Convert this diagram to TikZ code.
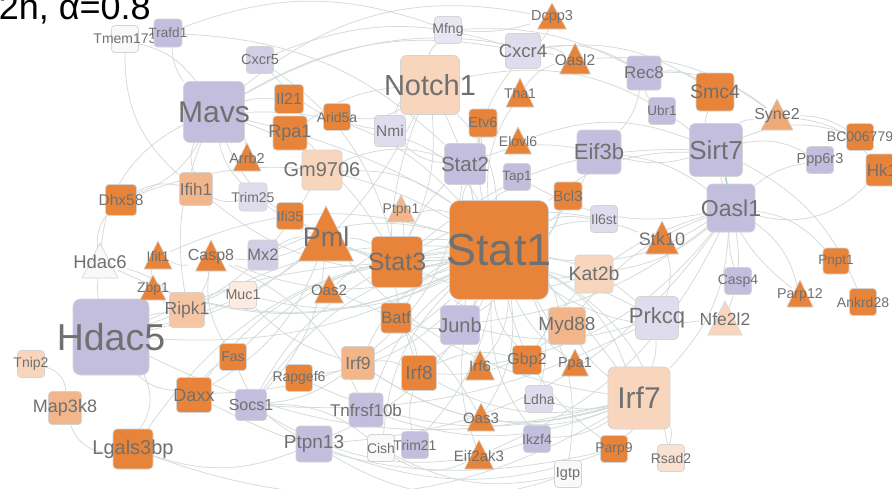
\documentclass[tikz,border=0pt]{standalone}
\usepackage{fontspec}
\setmainfont{Liberation Sans}
\usetikzlibrary{calc}
\definecolor{orD}{RGB}{232,132,58}
\definecolor{orM}{RGB}{243,182,138}
\definecolor{orM2}{RGB}{246,198,164}
\definecolor{orS}{RGB}{241,170,118}
\definecolor{orL}{RGB}{248,214,190}
\definecolor{orL2}{RGB}{250,226,210}
\definecolor{orVL}{RGB}{251,235,224}
\definecolor{lav}{RGB}{195,190,222}
\definecolor{lav2}{RGB}{210,206,230}
\definecolor{lavL}{RGB}{223,220,237}
\definecolor{lavVL}{RGB}{232,230,242}
\definecolor{wh}{RGB}{249,248,250}
\definecolor{edgec}{RGB}{210,219,216}
\definecolor{teal}{RGB}{160,214,210}
\definecolor{bordc}{RGB}{212,212,212}
\definecolor{labc}{RGB}{112,112,112}
\newcommand\fsz[1]{\fontsize{#1}{#1}\selectfont}
\pgfdeclarelayer{bgl}
\pgfdeclarelayer{edgel}
\pgfsetlayers{bgl,edgel,main}
\tikzset{
  box/.style={draw=bordc, line width=0.7pt, inner sep=0pt, outer sep=0pt},
  lab/.style={text=labc, inner sep=0.5pt},
  edge/.style={draw=edgec, line width=0.75pt},
}
\newcommand\bx[7]{%
  \pgfmathsetmacro\myrc{max(3.5,0.1*#4)}%
  \node[box, minimum size=#4pt, rounded corners=\myrc pt, fill=#5,
        label={[lab,font={\fsz{#6}}]center:#7}] (#1) at (#2,#3) {};}
\newcommand\tri[8]{%
  \filldraw[fill=#6, draw=bordc, line width=0.6pt, line join=round]
     (#2,#3) -- ++(#4/2,#5) -- ++(-#4,0) -- cycle;
  \node[lab, font={\fsz{#7}}] (#1) at (#2,#3+0.55*#5) {#8};}
\begin{document}
\begin{tikzpicture}[x=1pt,y=-1pt]
\useasboundingbox (0,0) rectangle (892,488);
\begin{pgfonlayer}{bgl}
\fill[white] (0,0) rectangle (892,488);
\end{pgfonlayer}
% title
\node[anchor=base east, font={\fsz{36}}, text=black, inner sep=0pt] (title) at (151,19.5) {2h, α=0.8};
% nodes
\bx{tmem}{125}{39}{27}{wh}{14}{Tmem173}
\bx{trafd}{168}{33}{28}{lav}{13.5}{Trafd1}
\bx{cxcr5}{260}{60}{27}{lav2}{14.5}{Cxcr5}
\bx{mavs}{214}{112}{61}{lav}{30}{Mavs}
\bx{il21}{289}{99}{29}{orD}{16}{Il21}
\bx{rpa1}{290}{133}{34}{orD}{18}{Rpa1}
\bx{arid}{337}{117}{27}{orD}{14}{Arid5a}
\bx{nmi}{390}{131}{31}{lavL}{15.5}{Nmi}
\bx{mfng}{448}{30}{27}{lavVL}{14}{Mfng}
\bx{notch}{430}{85}{59}{orL}{29}{Notch1}
\bx{cxcr4}{523}{51}{35}{lavL}{18.5}{Cxcr4}
\bx{etv6}{483}{123}{28}{orD}{14.5}{Etv6}
\bx{stat2}{465}{164}{41}{lav}{20.5}{Stat2}
\bx{tap1}{517}{177}{27}{lav}{13.5}{Tap1}
\bx{bcl3}{568}{196}{28}{orD}{15}{Bcl3}
\bx{il6st}{604}{219}{27}{lavL}{14}{Il6st}
\bx{gm}{322}{170}{40}{orL}{20}{Gm9706}
\bx{ifih1}{196}{189}{33}{orM}{17}{Ifih1}
\bx{trim25}{253}{197}{28}{lavL}{14}{Trim25}
\bx{dhx58}{121}{200}{31}{orD}{15.5}{Dhx58}
\bx{ifi35}{290}{216}{27}{orD}{14}{Ifi35}
\bx{rec8}{644}{73}{34}{lav}{17}{Rec8}
\bx{ubr1}{662}{111}{27}{lav}{13.5}{Ubr1}
\bx{smc4}{715}{92}{38}{orD}{19.5}{Smc4}
\bx{eif3b}{599}{152}{44}{lav}{22}{Eif3b}
\bx{sirt7}{716}{150}{53}{lav}{26}{Sirt7}
\bx{oasl1}{731}{208}{48}{lav}{23}{Oasl1}
\bx{bc}{860}{137}{27}{orD}{14}{BC006779}
\bx{hk1}{882}{170}{32}{orD}{17}{Hk1}
\bx{ppp}{820}{160}{27}{lav}{14.5}{Ppp6r3}
\bx{pnpt1}{836}{261}{26}{orD}{13.5}{Pnpt1}
\bx{casp4}{738}{281}{27}{lav}{14}{Casp4}
\bx{ank}{863}{302}{27}{orD}{14}{Ankrd28}
\bx{prkcq}{657}{318}{43}{lavL}{22}{Prkcq}
\bx{irf7}{639}{398}{62}{orL}{30}{Irf7}
\bx{parp9}{614}{449}{27}{orD}{14}{Parp9}
\bx{rsad2}{671}{458}{27}{orL2}{14}{Rsad2}
\bx{kat2b}{594}{274}{38}{orL}{19.5}{Kat2b}
\bx{myd88}{567}{326}{37}{orM}{19}{Myd88}
\bx{stat1}{499}{250}{99}{orD}{45}{Stat1}
\bx{stat3}{397}{262}{51}{orD}{25}{Stat3}
\bx{batf}{396}{318}{30}{orD}{16.5}{Batf}
\bx{junb}{460}{325}{39}{lav}{20}{Junb}
\bx{irf9}{358}{363}{33}{orM}{17.5}{Irf9}
\bx{irf8}{419}{373}{35}{orD}{19}{Irf8}
\bx{gbp2}{527}{360}{29}{orD}{16}{Gbp2}
\bx{ldha}{539}{399}{27}{lavL}{14}{Ldha}
\bx{tnf}{366}{410}{34}{lav}{17}{Tnfrsf10b}
\bx{ptpn13}{314}{444}{36}{lav}{19}{Ptpn13}
\bx{cish}{381}{448}{27}{wh}{14}{Cish}
\bx{trim21}{415}{445}{27}{lav}{14}{Trim21}
\bx{ikzf4}{537}{439}{27}{lav}{14}{Ikzf4}
\bx{igtp}{568}{474}{27}{wh}{14.5}{Igtp}
\bx{mx2}{263}{255}{30}{lav2}{16.5}{Mx2}
\bx{muc1}{243}{295}{27}{orVL}{14.3}{Muc1}
\bx{hdac5}{111}{337}{76}{lav}{37.5}{Hdac5}
\bx{tnip2}{31}{364}{27}{orL}{14}{Tnip2}
\bx{fas}{233}{357}{27}{orD}{14}{Fas}
\bx{map3k8}{65}{408}{33}{orM}{18}{Map3k8}
\bx{daxx}{194}{395}{35}{orD}{18}{Daxx}
\bx{socs1}{251}{405}{31}{lav}{16}{Socs1}
\bx{lgals}{133}{449}{40}{orD}{20}{Lgals3bp}
\bx{rapgef6}{299}{378}{27}{orD}{14}{Rapgef6}
% triangles
\tri{arrb2}{247}{143}{28}{28}{orD}{14.5}{Arrb2}
\tri{dcpp3}{552}{3}{29}{26}{orD}{14.5}{Dcpp3}
\tri{oasl2}{575}{43}{31}{31}{orD}{15.5}{Oasl2}
\tri{tha1}{520}{78}{28}{29}{orD}{14}{Tha1}
\tri{elovl6}{518}{127}{27}{27}{orD}{14}{Elovl6}
\tri{ptpn1}{401}{195}{28}{27}{orM}{14}{Ptpn1}
\tri{syne2}{777}{99}{32}{31}{orS}{16}{Syne2}
\tri{stk10}{662}{221}{33}{33}{orD}{18}{Stk10}
\tri{parp12}{800}{280}{26}{27}{orD}{14.2}{Parp12}
\tri{nfe2l2}{725}{301}{34}{34}{orL}{17.5}{Nfe2l2}
\tri{hdac6}{100}{243}{36}{35}{wh}{18.5}{Hdac6}
\tri{ifit1}{158}{241}{28}{28}{orD}{14}{Ifit1}
\tri{casp8}{211}{240}{31}{31}{orD}{16}{Casp8}
\tri{zbp1}{153}{275}{26}{25}{orD}{14}{Zbp1}
\bx{ripk1}{187}{310}{35}{orM2}{17.5}{Ripk1}
\tri{pml}{326}{206}{55}{55}{orD}{27}{Pml}
\tri{oas2}{329}{275}{29}{28}{orD}{15}{Oas2}
\tri{irf6}{480}{350}{29}{30}{orD}{15}{Irf6}
\tri{ppa1}{575}{349}{27}{27}{orD}{14.5}{Ppa1}
\tri{oas3}{481}{403}{28}{28}{orD}{15}{Oas3}
\tri{eif2ak3}{479}{440}{29}{29}{orD}{15}{Eif2ak3}
% edges
\begin{pgfonlayer}{edgel}
\foreach \a/\b/\c in {
 stat1/stat2/15, stat1/stat3/-10, stat1/irf7/20, stat1/irf9/-20, stat1/irf8/15,
 stat1/junb/-15, stat1/myd88/15, stat1/kat2b/-15, stat1/pml/20, stat1/mavs/-25,
 stat1/hdac5/15, stat1/notch/-20, stat1/socs1/-20, stat1/daxx/20, stat1/ripk1/-15,
 stat1/casp8/20, stat1/oasl1/-20, stat1/sirt7/20, stat1/eif3b/-15, stat1/prkcq/15,
 stat1/nmi/-20, stat1/tap1/20, stat1/bcl3/-20, stat1/il6st/15, stat1/gbp2/-20,
 stat1/irf6/20, stat1/cxcr4/25, stat1/gm/-20, stat1/ptpn13/20, stat1/tnf/-15,
 stat1/trim21/15, stat1/mx2/-20, stat1/ifi35/20, stat1/oas2/-25, stat1/oas3/20,
 stat1/eif2ak3/-20, stat1/stk10/20, stat1/nfe2l2/-20, stat1/ifih1/25, stat1/dhx58/-25,
 stat1/trim25/20, stat1/batf/-20, stat1/lgals/-25, stat1/rsad2/25, stat1/parp9/-20,
 stat1/ldha/20, stat1/ikzf4/-20, stat1/igtp/20, stat1/cish/-20, stat1/rapgef6/20,
 stat1/fas/-20, stat1/zbp1/20, stat1/ifit1/-20, stat1/hdac6/25, stat1/ppa1/-15,
 stat1/etv6/20, stat1/tha1/20, stat1/ptpn1/-15, stat1/muc1/20,
 mavs/ifih1/-20, mavs/dhx58/20, mavs/trim25/-15, mavs/arrb2/15, mavs/tmem/-20,
 mavs/trafd/15, mavs/hdac6/-30, mavs/dcpp3/25, mavs/cxcr4/20, mavs/pml/-20,
 mavs/stat3/20, mavs/irf7/20, mavs/ripk1/-15, mavs/il21/10, mavs/oasl2/22,
 hdac5/hdac6/10, hdac5/lgals/30, tnip2/map3k8/40, map3k8/lgals/-40, hdac5/daxx/-20,
 hdac5/ripk1/10, hdac5/stat3/10, hdac5/pml/-15, hdac5/irf7/-20, hdac5/notch/-25,
 notch/mfng/20, notch/nmi/-20, notch/stat3/15, notch/junb/20, notch/arid/20,
 notch/rpa1/-15, notch/sirt7/25, notch/irf8/-20,
 cxcr4/oasl2/20, cxcr4/dcpp3/-20, tha1/oasl2/20, rec8/smc4/20, rec8/ubr1/-20,
 rec8/cxcr4/-20, smc4/sirt7/-20, sirt7/syne2/20, syne2/hk1/20, sirt7/ppp/20,
 hk1/oasl1/30, bc/sirt7/-20, pnpt1/oasl1/-20, ank/sirt7/-20, parp12/sirt7/20,
 casp4/oasl1/10, nfe2l2/oasl1/-15, prkcq/irf7/10, irf7/oasl1/-20, irf7/parp9/15,
 irf7/rsad2/20, myd88/irf7/-10, irf7/irf9/25, eif3b/oasl1/15, eif3b/rec8/-15,
 stat2/irf9/20, stat2/stat3/-10, pml/daxx/20, ripk1/casp8/-15, ripk1/zbp1/15,
 fas/casp8/20, fas/daxx/-15, socs1/stat3/15, cish/socs1/-20, ptpn13/fas/20,
 tnf/casp8/-20, trim21/irf8/15, oas2/oas3/20, eif2ak3/oasl1/-20, lgals/irf7/-25,
 daxx/parp9/-20, socs1/prkcq/-15, pml/irf7/-20, stat3/prkcq/15, junb/prkcq/-15,
 kat2b/stat3/20, sirt7/eif3b/15, stk10/prkcq/20, syne2/rec8/-20, bc/syne2/-15,
 oasl1/ppp/15, oasl1/parp12/20, oasl1/myd88/-15, oasl1/irf6/20, oasl1/junb/15,
 oasl1/gbp2/-20, oasl1/kat2b/15, oasl1/ptpn13/25, sirt7/stat3/-20, eif3b/stat2/-15,
 pml/stat3/15, pml/mx2/-15, pml/ifi35/20, pml/casp8/15, pml/socs1/20,
 irf9/irf8/15, irf8/irf7/-20, irf9/irf7/-25, myd88/irf8/20, ldha/irf7/-15,
 dhx58/ifih1/20, dhx58/hdac6/-25, ifih1/trim25/-20, tmem/ifih1/-25, trafd/stat2/20,
 cxcr5/stat3/20, cxcr5/nmi/-20, mfng/dcpp3/-10, gm/stat2/20, gm/rpa1/-20,
 gm/hdac5/20, ptpn1/stat3/10, nmi/stat2/-20, etv6/stat2/15, elovl6/sirt7/20,
 tap1/oasl1/-20, bcl3/junb/15, il6st/stat3/-20, zbp1/ifit1/20, ifit1/casp8/-20,
 muc1/irf9/-15, rapgef6/irf7/-20, tnf/irf7/-20, cish/igtp/-20, ikzf4/irf7/-15,
 ptpn13/parp9/-20, oas3/irf7/-15, gbp2/irf8/-20, batf/irf8/15, batf/junb/-15,
 hdac6/ripk1/15, lgals/ptpn13/-20, daxx/stat3/20, socs1/irf9/-15,
 ptpn13/igtp/-25, cish/eif2ak3/-30, socs1/ikzf4/-25, trafd/mfng/20,
 cxcr5/cxcr4/20, mfng/rec8/15, cxcr4/smc4/20, oasl2/syne2/20}
 {\draw[edge] (\a) to[bend left=\c] (\b);}
\draw[teal, line width=1.6pt] (sirt7) to[bend left=5] (oasl1);
\end{pgfonlayer}
\end{tikzpicture}
\end{document}
